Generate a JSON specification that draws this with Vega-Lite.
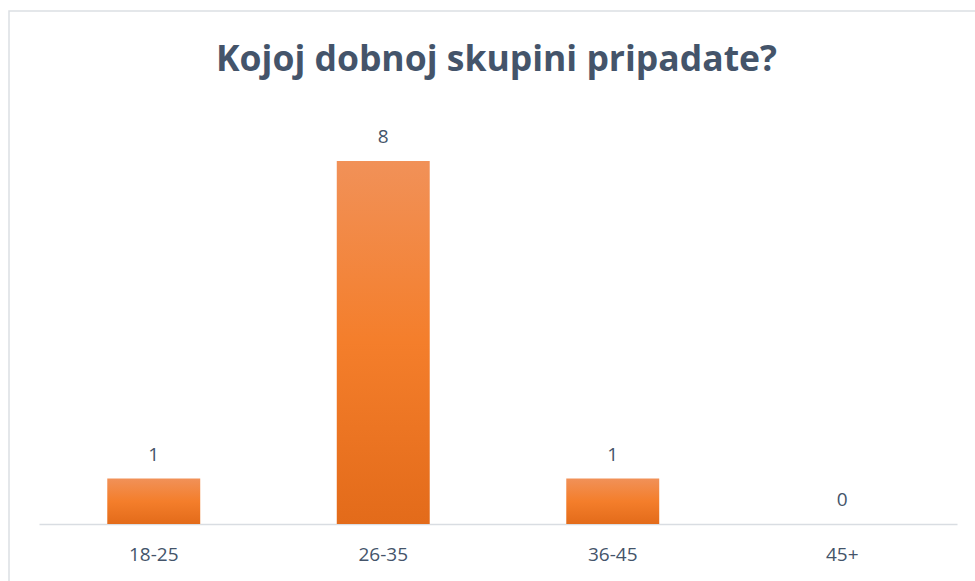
{
  "$schema": "https://vega.github.io/schema/vega-lite/v6.json",
  "autosize": "none",
  "width": 975,
  "height": 581,
  "padding": {"left": 9, "top": 11, "right": 0, "bottom": 0},
  "background": "white",
  "config": {
    "view": {"stroke": "#DCDFE3", "strokeWidth": 1.5},
    "font": "Open Sans"
  },
  "title": {
    "text": "Kojoj dobnoj skupini pripadate?",
    "font": "Open Sans",
    "fontSize": 35.5,
    "fontWeight": "bold",
    "color": "#44546A",
    "anchor": "middle",
    "frame": "group",
    "baseline": "alphabetic",
    "offset": -95
  },
  "data": {
    "values": [
      {"group": "18-25", "count": 1},
      {"group": "26-35", "count": 8},
      {"group": "36-45", "count": 1},
      {"group": "45+", "count": 0}
    ]
  },
  "encoding": {
    "x": {
      "field": "group",
      "type": "nominal",
      "sort": null,
      "scale": {"range": [30, 948], "paddingInner": 0.595, "paddingOuter": 0.2975},
      "axis": {
        "title": null,
        "labelAngle": 0,
        "ticks": false,
        "grid": false,
        "domainColor": "#D9DDE2",
        "domainWidth": 1.5,
        "offset": -68,
        "labelPadding": 21,
        "labelFont": "Open Sans",
        "labelFontSize": 19,
        "labelColor": "#44546A"
      }
    },
    "y": {
      "field": "count",
      "type": "quantitative",
      "scale": {"domain": [0, 9], "range": [513, 104.6]},
      "axis": null
    }
  },
  "layer": [
    {
      "mark": {
        "type": "bar",
        "color": {
          "gradient": "linear",
          "x1": 0, "y1": 0, "x2": 0, "y2": 1,
          "stops": [
            {"offset": 0, "color": "#F19158"},
            {"offset": 0.5, "color": "#F47E2B"},
            {"offset": 1, "color": "#E36B1A"}
          ]
        }
      }
    },
    {
      "mark": {
        "type": "text",
        "baseline": "bottom",
        "dy": -14,
        "font": "Open Sans",
        "fontSize": 19,
        "color": "#44546A"
      },
      "encoding": {"text": {"field": "count", "type": "quantitative"}}
    }
  ]
}
